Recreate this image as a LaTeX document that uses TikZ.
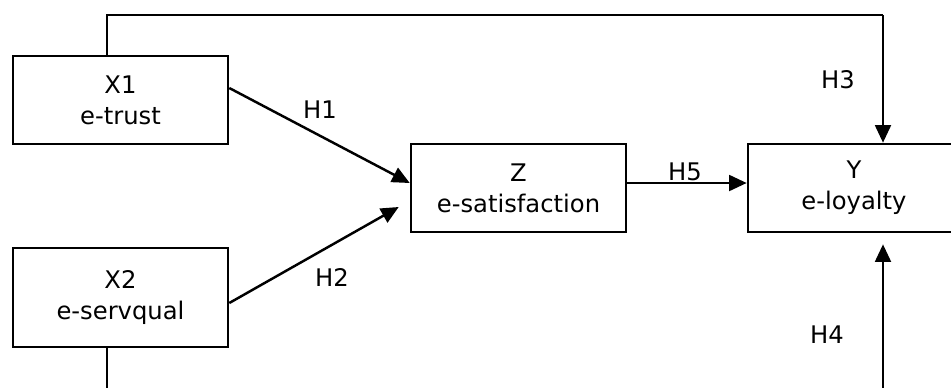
\documentclass[tikz,border=0pt]{standalone}
\usepackage{fontspec}
\setmainfont{DejaVu Sans}
\usetikzlibrary{arrows.meta}
\begin{document}
\begin{tikzpicture}[x=0.02cm,y=-0.02cm,
  font=\fontsize{13.8}{17.5}\selectfont,
  box/.style={draw,line width=1.5pt,rectangle,align=center,inner sep=0pt},
  arr/.style={line width=1.4pt,-{Triangle[length=10pt,width=9pt]}},
  thin/.style={line width=0.85pt},
  lbl/.style={inner sep=0pt}]
\clip (0,0) rectangle (951,387);
\node[box,minimum width=4.3cm,minimum height=1.76cm] (x1) at (120.5,100) {X1\\e-trust};
\node[box,minimum width=4.3cm,minimum height=1.98cm] (x2) at (120.5,297.5) {X2\\e-servqual};
\node[box,minimum width=4.3cm,minimum height=1.76cm] (z) at (518.5,188) {Z\\e-satisfaction};
\node[box,minimum width=4.24cm,minimum height=1.76cm] (y) at (854,188) {Y\\e-loyalty};
\coordinate (t1) at (107,15);
\coordinate (t2) at (883,15);
\coordinate (b1) at (107,400);
\coordinate (b2) at (883,400);
\draw[arr] ([yshift=0.24cm]x1.east) -- ([yshift=0.1cm]z.west);
\draw[arr] ([yshift=-0.11cm]x2.east) -- ([xshift=-0.22cm,yshift=-0.38cm]z.west);
\draw[arr] ([yshift=0.1cm]z.east) -- ([yshift=0.1cm]y.west);
\draw[thin] (x1.north -| t1) -- (t1) -- (t2);
\draw[arr] (t2) -- (y.north -| t2);
\draw[thin] (x2.south -| b1) -- (b1) -- (b2);
\draw[arr] (b2) -- ([yshift=-0.22cm]y.south -| b2);
\node[lbl] (h1) at (320,110) {H1};
\node[lbl] (h2) at (332,277) {H2};
\node[lbl] (h3) at (838,80) {H3};
\node[lbl] (h4) at (827,335) {H4};
\node[lbl] (h5) at (685,172) {H5};
\end{tikzpicture}
\end{document}
